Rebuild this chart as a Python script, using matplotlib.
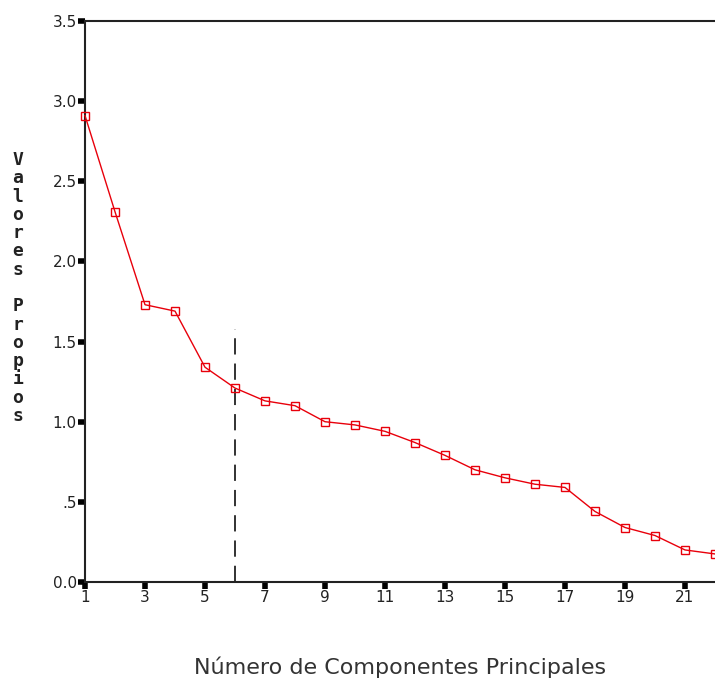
import numpy as np
import matplotlib.pyplot as plt

# componentes y valores propios
componentes = np.arange(1, 23)
valores = [2.91, 2.31, 1.73, 1.69, 1.34, 1.21, 1.13, 1.10, 1.00, 0.98, 0.94,
           0.87, 0.79, 0.70, 0.65, 0.61, 0.59, 0.44, 0.34, 0.29, 0.20, 0.175]
corte_x = 6
corte_y = 1.58

x_ticks = np.arange(1, 22, 2)
y_ticks = [0.0, 0.5, 1.0, 1.5, 2.0, 2.5, 3.0, 3.5]
y_labels = ['0.0', '.5', '1.0', '1.5', '2.0', '2.5', '3.0', '3.5']

fig = plt.figure(figsize=(7.15, 6.89), dpi=100)
ax = fig.add_axes([85 / 715, 1 - 582 / 689, 1 - 85 / 715, (582 - 21) / 689])

ax.plot(componentes, valores, color='#e8000b', lw=1.0, marker='s', ms=6,
        mfc='none', mec='#e8000b', mew=1.0, clip_on=False, zorder=3)
ax.plot([corte_x, corte_x], [0, corte_y], color='#222222', lw=1.3,
        ls=(0, (9, 5)), zorder=2)

ax.set_xlim(1, 22)
ax.set_ylim(0, 3.5)
ax.set_xticks(x_ticks)
ax.set_yticks(y_ticks)
ax.set_yticklabels(y_labels)
ax.tick_params(direction='out', length=5, width=4, color='black',
               labelsize=11, pad=1, labelcolor='#222222')

for s in ['left', 'top', 'bottom']:
    ax.spines[s].set_linewidth(1.5)
    ax.spines[s].set_color('#222222')
ax.spines['right'].set_visible(False)

fig.text(18 / 715, 1 - 288 / 689, '\n'.join('Valores Propios'),
         ha='center', va='center', fontsize=13, fontweight='bold',
         family='DejaVu Sans Mono', linespacing=1.02, color='#222222')

fig.text(400 / 715, 1 - 667 / 689, 'Número de Componentes Principales',
         ha='center', va='center', fontsize=16,
         family=['Liberation Sans Narrow', 'DejaVu Sans'], color='#333333')

fig.savefig('out.png', dpi=100)
